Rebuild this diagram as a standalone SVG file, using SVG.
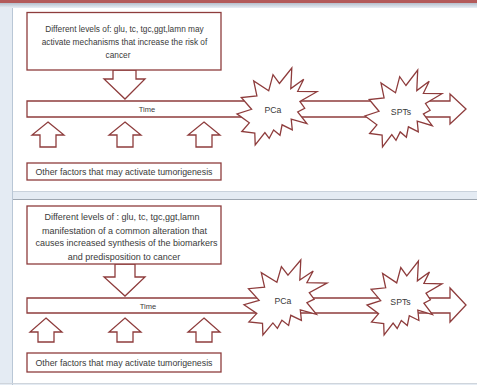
<svg xmlns="http://www.w3.org/2000/svg" width="477" height="385" viewBox="0 0 477 385">
<defs>
<style>
.sh{fill:#fff;stroke:#8e3c3c;stroke-width:1.3;stroke-linejoin:miter}
.t{font-family:"Liberation Sans",Arial,sans-serif;fill:#3a3a3a;text-anchor:middle}
.a{font-size:8.3px}
.b{font-size:9px}
.c{font-size:8.8px}
.s{font-size:8.7px}
</style>
<linearGradient id="topg" x1="0" y1="0" x2="0" y2="1">
<stop offset="0" stop-color="#b5bfcc"/><stop offset="1" stop-color="#e9eff5"/>
</linearGradient>
</defs>
<!-- background frame -->
<rect x="0" y="0" width="477" height="385" fill="#e4ebf3"/>
<rect x="0" y="0" width="477" height="3" fill="#b35a5a"/>
<rect x="0" y="3" width="477" height="5" fill="url(#topg)"/>
<rect x="13" y="8" width="464" height="183" fill="#fff"/>
<rect x="13" y="199" width="464" height="184" fill="#fff"/>
<line x1="12.5" y1="8" x2="12.5" y2="385" stroke="#b9c7d6" stroke-width="1"/>
<line x1="13" y1="191.5" x2="477" y2="191.5" stroke="#c9d2dc" stroke-width="1"/>
<line x1="13" y1="199.5" x2="477" y2="199.5" stroke="#9ea7b1" stroke-width="1"/>
<line x1="0" y1="383.5" x2="477" y2="383.5" stroke="#cfd5dc" stroke-width="1"/>

<!-- Panel 1 -->
<g id="time1">
<path class="sh" d="M27,101 H450 V94 L466,109 L450,124 V117 H27 Z"/>
<text class="t" font-size="7.5" x="147" y="112">Time</text>
</g>
<g id="connectors">
<path class="sh" d="M113,70 H136 V79 H145 L125,99 L104,79 H113 Z"/>
<path class="sh" d="M48,122 L64,135 H56 V147 H40 V135 H32 Z"/>
<path class="sh" d="M125,122 L141,135 H133 V147 H117 V135 H109 Z"/>
<path class="sh" d="M204,122 L220,135 H212 V147 H196 V135 H188 Z"/>
<path class="sh" d="M115,264 H135 V277 H145 L125,296 L104,277 H115 Z"/>
<path class="sh" d="M46,318 L62,332 H54 V342 H38 V332 H30 Z"/>
<path class="sh" d="M125,318 L141,332 H133 V342 H117 V332 H109 Z"/>
<path class="sh" d="M204,318 L220,332 H212 V342 H196 V332 H188 Z"/>
</g>
<g id="box1">
<rect class="sh" x="27" y="12.5" width="194" height="57.5"/>
<text class="t a" x="124.5" y="31.5">Different levels of: glu, tc, tgc,ggt,lamn may</text>
<text class="t a" x="124.5" y="44.5">activate mechanisms that increase the risk of</text>
<text class="t a" x="118" y="58">cancer</text>
</g>
<g id="factors1">
<rect class="sh" x="27" y="163" width="194" height="17"/>
<text class="t c" x="124" y="175">Other factors that may activate tumorigenesis</text>
</g>
<g id="pca1">
<polygon class="sh" points="279.4,83.5 291.8,68 290.8,88.6 303.7,79.3 297.7,91.3 317,91.7 299.9,101.5 304.7,108.2 297.7,111.9 306.9,123.7 291.2,119.2 292.3,129.9 282.1,124.8 280,135.2 273.6,129.9 269.2,138.3 264.9,132.6 255.2,145 254.8,133 241.8,131.5 249.3,122.8 237,113.9 251.6,109.3 241.3,97.5 256.9,95.9 253.7,80.9 268.7,90.8 273,74.7"/>
<text class="t s" x="273" y="113">PCa</text>
</g>
<g id="spts1">
<polygon class="sh" points="405.9,85.5 417.7,70 416.8,90.6 429.2,81.3 423.4,93.3 442,93.7 425.5,103.5 430.1,110.2 423.4,113.9 432.3,125.7 417.2,121.2 418.3,131.9 408.4,126.8 406.4,137.2 400.2,131.9 396,140.3 391.8,134.6 382.5,147 382.1,135 369.6,133.5 376.9,124.8 365,115.9 379,111.3 369.2,99.5 384.1,97.9 381,82.9 395.5,92.8 399.7,76.7"/>
<text class="t s" x="401" y="115">SPTs</text>
</g>

<!-- Panel 2 -->
<g id="time2">
<path class="sh" d="M27,298 H450 V288 L466,305 L450,322 V313 H27 Z"/>
<text class="t" font-size="7.5" x="148" y="308.5">Time</text>
</g>
<g id="box2">
<rect class="sh" x="27" y="206" width="194" height="58"/>
<text class="t b" x="122" y="220">Different levels of : glu, tc, tgc,ggt,lamn</text>
<text class="t b" x="124.5" y="233.5">manifestation of a common alteration that</text>
<text class="t b" x="126.5" y="246">causes increased synthesis of the biomarkers</text>
<text class="t b" x="124" y="259.5">and predisposition to cancer</text>
</g>
<g id="factors2">
<rect class="sh" x="27" y="353" width="194" height="19"/>
<text class="t c" x="124" y="366">Other factors that may activate tumorigenesis</text>
</g>
<g id="pca2">
<polygon class="sh" points="288,275.1 300.8,260 299.8,280.1 313.2,271 306.9,282.7 327,283.1 309.3,292.6 314.2,299.2 306.9,302.7 316.5,314.3 300.3,309.8 301.4,320.3 290.8,315.3 288.6,325.4 281.9,320.3 277.4,328.4 272.9,322.9 262.9,335 262.5,323.3 248.9,321.9 256.8,313.4 244,304.7 259.1,300.3 248.5,288.7 264.6,287.1 261.3,272.6 276.9,282.2 281.4,266.6"/>
<text class="t s" x="283" y="304">PCa</text>
</g>
<g id="spts2">
<polygon class="sh" points="406.8,275.9 418.4,261 417.4,280.8 429.5,271.9 423.9,283.4 442,283.8 426,293.2 430.4,299.7 423.9,303.2 432.5,314.6 417.8,310.2 418.9,320.5 409.3,315.6 407.3,325.6 401.3,320.5 397.2,328.5 393.1,323.1 384.1,335 383.7,323.5 371.5,322.1 378.6,313.7 367,305.1 380.7,300.7 371.1,289.3 385.7,287.8 382.6,273.4 396.7,282.9 400.8,267.5"/>
<text class="t s" x="400.5" y="305">SPTs</text>
</g>
</svg>
